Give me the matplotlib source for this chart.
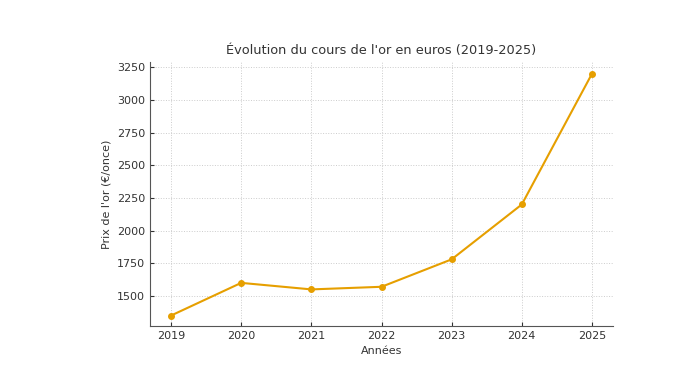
import matplotlib.pyplot as plt

# donnees
annees = [2019, 2020, 2021, 2022, 2023, 2024, 2025]
prix_or = [1350, 1600, 1550, 1570, 1780, 2200, 3200]

fig = plt.figure(figsize=(6.95, 3.69), dpi=100)
ax = fig.add_axes([150 / 695, 1 - 326 / 369, 463 / 695, 264 / 369])

ax.plot(annees, prix_or, color='#E69F00', linewidth=1.5, marker='o', markersize=4)

ax.set_title("Évolution du cours de l'or en euros (2019-2025)", fontsize=9.3, color='#333333')
ax.set_xlabel("Années", fontsize=8, color='#333333')
ax.set_ylabel("Prix de l'or (€/once)", fontsize=8, color='#333333')
ax.set_xticks(annees)
ax.set_ylim(1270, 3290)
ax.set_xlim(2018.7, 2025.3)
ax.grid(True, linestyle=':', color='#cccccc', linewidth=0.7)
ax.tick_params(direction='in', labelsize=8, colors='#333333', length=3)
ax.spines['top'].set_visible(False)
ax.spines['right'].set_visible(False)
for s in ('left', 'bottom'):
    ax.spines[s].set_color('#555555')

fig.savefig('out.png', dpi=100)
